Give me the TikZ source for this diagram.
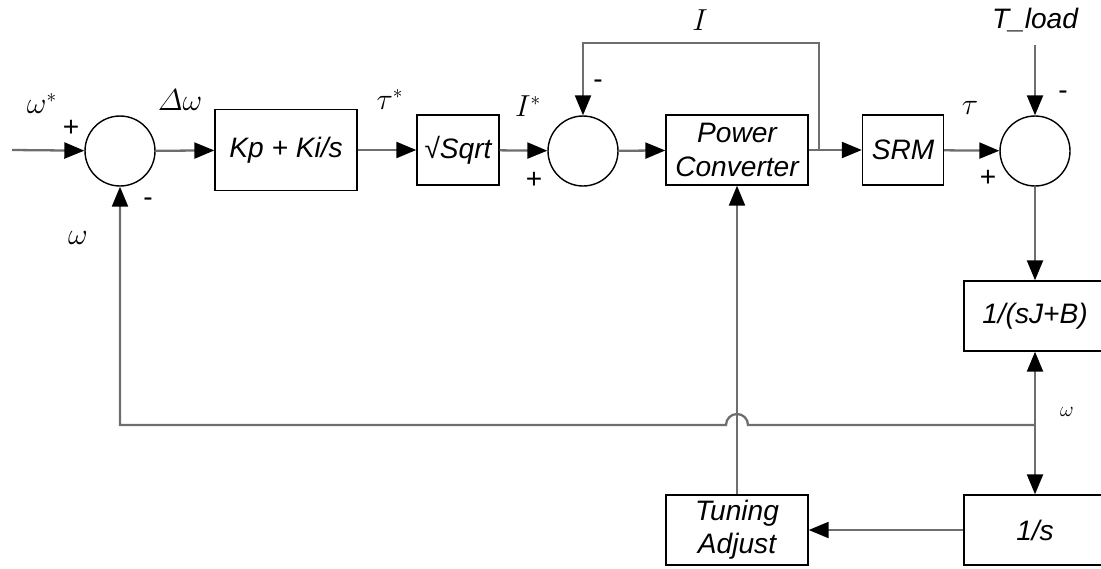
\documentclass[tikz,border=0pt]{standalone}
\usepackage{fontspec}
\setmainfont{Liberation Sans}
\usepackage{tikz}
\usetikzlibrary{arrows.meta}
\definecolor{wiregray}{HTML}{6E6E6E}

\begin{document}
\begin{tikzpicture}[x=0.02cm, y=-0.02cm,
    block/.style={rectangle, draw=black, line width=0.8pt,
      minimum width=2.84cm, minimum height=1.4cm, align=center,
      font=\fontsize{16}{19}\selectfont\itshape, inner sep=1pt},
    sumnode/.style={circle, draw=black, line width=0.8pt,
      minimum size=1.4cm, inner sep=0pt},
    wire/.style={draw=wiregray, line width=1.3pt,
      -{Triangle[color=black, length=0.4cm, width=0.32cm]}},
    lbl/.style={font=\fontsize{16}{19}\selectfont, inner sep=0pt}]
  \useasboundingbox (0,0) rectangle (1101,568);

  % forward path
  \node[sumnode] (sum1) at (120,151) {};
  \node[block, minimum height=1.62cm] (pi) at (286,150) {Kp + Ki/s};
  \node[block, minimum width=1.64cm] (sqrt) at (458,150) {√Sqrt};
  \node[sumnode] (sum2) at (583,151) {};
  \node[block] (pc) at (737,150) {Power\\Converter};
  \node[block, minimum width=1.62cm] (srm) at (903,150) {SRM};
  \node[sumnode] (sum3) at (1035,151) {};
  \node[block] (plant) at (1035,316) {1/(sJ+B)};
  \node[block] (integ) at (1035,530) {1/s};
  \node[block] (tune) at (737,530) {Tuning\\Adjust};

  \coordinate (in) at (12,150);
  \coordinate (tload) at (1035,45);
  \coordinate (jw) at (1035,425);
  \coordinate (tap) at (819,150);
  \coordinate (ibend) at (819,43);

  \draw[wire] (in) -- (sum1);
  \draw[wire] (sum1) -- (pi);
  \draw[wire] (pi) -- (sqrt);
  \draw[wire] (sqrt) -- (sum2);
  \draw[wire] (sum2) -- (pc);
  \draw[wire] (pc) -- (srm);
  \draw[wire] (srm) -- (sum3);
  \draw[wire] (tload) -- (sum3);
  \draw[wire] (sum3) -- (plant);
  \draw[wire] (jw) -- (plant);
  \draw[wire] (jw) -- (integ);
  \draw[wire] (integ) -- (tune);
  \draw[wire] (tune) -- (pc);
  \draw[wire] (tap) -- (ibend) -| (sum2);
  % speed feedback with hop over the tuning line
  \draw[wire] (jw) -- (748,425)
    arc[start angle=0, end angle=180, radius=0.22cm]
    -- (sum1 |- jw) -- (sum1);

  % labels
  \node[lbl] (l-wref) at (42,104) {$\omega^{*}$};
  \node[lbl] (l-p1) at (71,128) {+};
  \node[lbl] (l-m1) at (148,202) {-};
  \node[lbl] (l-w1) at (78,238) {$\omega$};
  \node[lbl] (l-dw) at (180,100) {$\mathnormal{\Delta}\omega$};
  \node[lbl] (l-tref) at (390,100) {$\tau^{*}$};
  \node[lbl] (l-iref) at (528,106) {$I^{*}$};
  \node[lbl] (l-p2) at (534,180) {+};
  \node[lbl] (l-m2) at (598,84) {-};
  \node[lbl] (l-i) at (700,20) {$I$};
  \node[lbl, font=\fontsize{16}{19}\selectfont\itshape] (l-tl) at (1035,20) {T\_load};
  \node[lbl] (l-m3) at (1063,95) {-};
  \node[lbl] (l-p3) at (988,178) {+};
  \node[lbl] (l-tau) at (970,108) {$\tau$};
  \node[lbl, font=\fontsize{12}{14}\selectfont] (l-w2) at (1067,412) {$\omega$};
\end{tikzpicture}
\end{document}
